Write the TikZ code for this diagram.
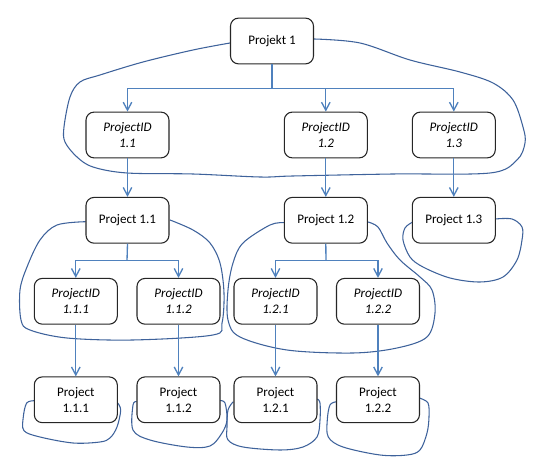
\documentclass[tikz,border=0pt]{standalone}
\usepackage{fontspec}
\setmainfont{Carlito}
\usetikzlibrary{arrows.meta}
\definecolor{connblue}{RGB}{79,129,189}
\definecolor{hullblue}{RGB}{62,98,155}
\tikzset{
  box/.style={draw=black!85, line width=0.8pt, rounded corners=6pt, fill=white,
    minimum width=62.25pt, minimum height=34.3pt, align=center, inner sep=1pt,
    font=\fontsize{9.8}{12}\selectfont},
  idbox/.style={box, font=\fontsize{9.8}{12}\selectfont\itshape},
  conn/.style={draw=connblue, line width=1pt, -{Straight Barb[length=6pt,width=6.4pt]}},
  connline/.style={draw=connblue, line width=1pt},
  hull/.style={draw=hullblue, line width=0.8pt}
}
\begin{document}
\begin{tikzpicture}[x=0.75pt,y=-0.75pt]
\useasboundingbox (0,0) rectangle (544,473);
% hulls
\draw[hull] plot[smooth,tension=0.55] coordinates {(230,43) (193,50) (143,62) (100,75) (80,82) (70,97) (64,127) (65,142) (77,157) (93,167) (127,173) (193,174) (260,177) (293,176) (393,174) (490,173) (517,160) (525,143) (523,127) (513,100) (493,83) (460,72) (410,60) (360,43) (314,39)};
\draw[hull] plot[smooth,tension=0.55] coordinates {(85.7,221.7) (57,225) (40,240) (27,267) (20,290) (21,320) (30,330) (67,338) (133,340) (213,335) (222,323) (224,293) (220,263) (210,243) (193,230) (170,220)};
\draw[hull] plot[smooth,tension=0.55] coordinates {(284.3,222.7) (270,225) (243,243) (233,263) (228,290) (228,320) (240,337) (287,350) (353,353) (397,348) (427,337) (435,313) (432,290) (420,277) (400,260) (387,243) (378,227) (368,222)};
\draw[hull] plot[smooth,tension=0.55] coordinates {(412.3,222.3) (405,228) (403,240) (410,257) (423,267) (450,278) (480,282) (503,277) (517,260) (522,240) (522,227) (512,219) (495.3,219)};
\draw[hull] plot[smooth,tension=0.55] coordinates {(34.7,400.7) (26.7,403) (23.3,417) (24,430.7) (40,437) (73,443) (100,442) (110,438) (117,427) (120.7,410) (117.3,402.5)};
\draw[hull] plot[smooth,tension=0.55] coordinates {(136.7,401.7) (133,405) (133,430) (150,440) (187,447) (210,446) (222,433) (227,420) (225,403) (219.7,400.7)};
\draw[hull] plot[smooth,tension=0.55] coordinates {(233.3,401.7) (228,410) (227,427) (228,440) (243,447) (280,450) (303,447) (317,437) (320,420) (320,403) (317.3,399)};
\draw[hull] plot[smooth,tension=0.55] coordinates {(336.7,401.7) (330,405) (327.3,420) (328.3,437) (343,447) (380,455) (407,455) (420,450) (427,433) (429,417) (428,403) (419.3,398)};
% nodes
\node[box] (p1) at (272,41) {Projekt 1};
\node[idbox] (id11) at (127.5,135) {ProjectID\\1.1};
\node[idbox] (id12) at (325.8,135) {ProjectID\\1.2};
\node[idbox] (id13) at (453.8,135) {ProjectID\\1.3};
\node[box] (pr11) at (127.5,220.3) {Project 1.1};
\node[box] (pr12) at (325.8,220.3) {Project 1.2};
\node[box] (pr13) at (453.8,220.3) {Project 1.3};
\node[idbox] (id111) at (75.8,301.3) {ProjectID\\1.1.1};
\node[idbox] (id112) at (178.5,301.3) {ProjectID\\1.1.2};
\node[idbox] (id121) at (275.5,301.3) {ProjectID\\1.2.1};
\node[idbox] (id122) at (378,301.3) {ProjectID\\1.2.2};
\node[box] (pr111) at (75.8,399.8) {Project\\1.1.1};
\node[box] (pr112) at (178.5,399.8) {Project\\1.1.2};
\node[box] (pr121) at (275.5,399.8) {Project\\1.2.1};
\node[box] (pr122) at (378,399.8) {Project\\1.2.2};
% branch coordinates
\coordinate (b1) at (272,88.3);
\coordinate (b2) at (127,260.7);
\coordinate (b3) at (326,260.7);
% connectors
\draw[connline] (p1.south) -- (b1);
\draw[conn] (b1) -| (id11.north);
\draw[conn] (b1) -| (id12.north);
\draw[conn] (b1) -| (id13.north);
\draw[conn] (id11) -- (pr11);
\draw[conn] (id12) -- (pr12);
\draw[conn] (id13) -- (pr13);
\draw[connline] (pr11.south) -- (b2);
\draw[conn] (b2) -| (id111.north);
\draw[conn] (b2) -| (id112.north);
\draw[connline] (pr12.south) -- (b3);
\draw[conn] (b3) -| (id121.north);
\draw[conn] (b3) -| (id122.north);
\draw[conn] (id111) -- (pr111);
\draw[conn] (id112) -- (pr112);
\draw[conn] (id121) -- (pr121);
\draw[conn] (id122) -- (pr122);
\end{tikzpicture}
\end{document}
